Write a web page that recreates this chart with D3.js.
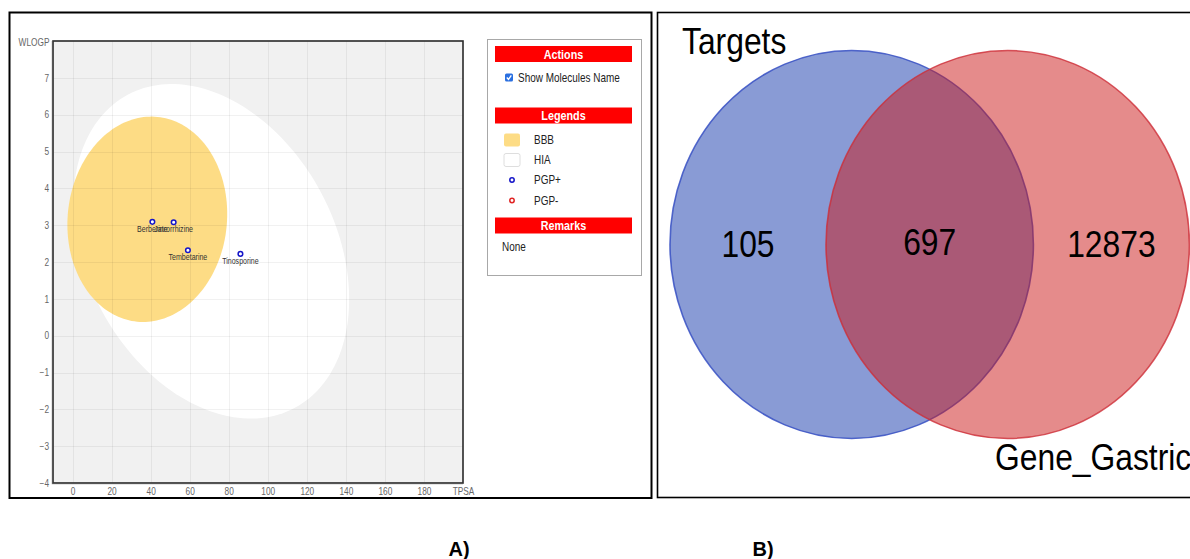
<!DOCTYPE html>
<html>
<head>
<meta charset="utf-8">
<script src="https://cdn.jsdelivr.net/npm/d3@7"></script>
<style>
  html, body { margin: 0; padding: 0; background: #fff; }
  svg { display: block; font-family: "Liberation Sans", Arial, Helvetica, sans-serif; }
</style>
</head>
<body>
<svg id="fig" width="1190" height="559"></svg>
<script>
// ---------- Panel A: BOILED-Egg ----------
const molecules   = ["Berberine", "Jatrorrhizine", "Tembetarine", "Tinosporine"];
const tpsaValues  = [40.9, 51.8, 59.1, 86.0];
const wlogpValues = [3.09, 3.08, 2.32, 2.22];
const pgpClass    = ["PGP+", "PGP+", "PGP+", "PGP+"];

// absorption zones: centre and two conjugate semi-axes, in (TPSA, WLOGP) units
const zoneNames       = ["HIA", "BBB"];
const zoneCenterTPSA  = [71.05, 38.3];
const zoneCenterWLOGP = [2.29, 3.16];
const zoneAxisU       = [[42.8, -4.25], [5.2, 2.78]];
const zoneAxisV       = [[-56.2, -1.6], [40.6, -0.21]];

const xTickValues = [0, 20, 40, 60, 80, 100, 120, 140, 160, 180];
const yTickValues = [-4, -3, -2, -1, 0, 1, 2, 3, 4, 5, 6, 7];
const xDomain = [-10, 200];
const yDomain = [-4, 8];

const legendLabels = ["BBB", "HIA", "PGP+", "PGP-"];
const panelHeaders = ["Actions", "Legends", "Remarks"];

// ---------- Panel B: Venn diagram ----------
const setNames     = ["Targets", "Gene_Gastric"];
const regionCounts = [105, 697, 12873];   // Targets only, both, Gene_Gastric only

const COLORS = {
  plotBg: "#f1f1f1", BBB: "#fddc85", HIA: "#ffffff",
  pgpPlus: "#1414c8", pgpMinus: "#e02424", header: "#ff0000"
};

const svg = d3.select("#fig");

// condensed text: scale horizontally around the anchor point
function squeeze(sel, k) {
  sel.each(function () {
    const t = d3.select(this);
    const x = +t.attr("x") || 0, y = +t.attr("y") || 0;
    t.attr("x", 0).attr("y", 0).attr("transform", `translate(${x},${y}) scale(${k},1)`);
  });
}
const K = 0.83;

// ================= Panel A =================
const A = svg.append("g");
A.append("rect").attr("x", 9.5).attr("y", 12.5).attr("width", 642).attr("height", 485.5)
  .attr("fill", "#fff").attr("stroke", "#000").attr("stroke-width", 2);

const plot = { left: 53, right: 463, top: 41, bottom: 483 };
const x = d3.scaleLinear().domain(xDomain).range([plot.left, plot.right]);
const y = d3.scaleLinear().domain(yDomain).range([plot.bottom, plot.top]);

A.append("rect").attr("x", plot.left).attr("y", plot.top)
  .attr("width", plot.right - plot.left).attr("height", plot.bottom - plot.top)
  .attr("fill", COLORS.plotBg);

// zones
const zoneLine = d3.line().x(d => x(d[0])).y(d => y(d[1])).curve(d3.curveLinearClosed);
zoneNames.forEach((name, i) => {
  const pts = d3.range(0, 2 * Math.PI, Math.PI / 90).map(t => [
    zoneCenterTPSA[i]  + zoneAxisU[i][0] * Math.cos(t) + zoneAxisV[i][0] * Math.sin(t),
    zoneCenterWLOGP[i] + zoneAxisU[i][1] * Math.cos(t) + zoneAxisV[i][1] * Math.sin(t)
  ]);
  A.append("path").attr("d", zoneLine(pts)).attr("fill", COLORS[name]);
});

// grid
const grid = A.append("g").attr("stroke", "rgba(0,0,0,0.055)").attr("stroke-width", 1);
xTickValues.forEach(v => grid.append("line")
  .attr("x1", Math.round(x(v)) + 0.5).attr("x2", Math.round(x(v)) + 0.5)
  .attr("y1", plot.top).attr("y2", plot.bottom));
yTickValues.slice(1).forEach(v => grid.append("line")
  .attr("x1", plot.left).attr("x2", plot.right)
  .attr("y1", Math.round(y(v)) + 0.5).attr("y2", Math.round(y(v)) + 0.5));

// frame
A.append("rect").attr("x", plot.left).attr("y", plot.top)
  .attr("width", plot.right - plot.left).attr("height", plot.bottom - plot.top)
  .attr("fill", "none").attr("stroke", "#2a2a2a").attr("stroke-width", 1.6);
A.append("path")
  .attr("d", `M${plot.left - 0.5},${plot.top} V${plot.bottom + 0.5} H${plot.right}`)
  .attr("fill", "none").attr("stroke", "#555").attr("stroke-width", 1.5).attr("opacity", 0.6);

// axes
const xAxis = A.append("g").attr("transform", `translate(0,${plot.bottom})`)
  .call(d3.axisBottom(x).tickValues(xTickValues).tickSize(0).tickPadding(5));
const yAxis = A.append("g").attr("transform", `translate(${plot.left},0)`)
  .call(d3.axisLeft(y).tickValues(yTickValues).tickSize(0).tickPadding(4));
[xAxis, yAxis].forEach(g => {
  g.select(".domain").remove();
  g.selectAll("text").attr("fill", "#666").attr("font-size", 10).attr("font-family", null);
  squeeze(g.selectAll("text"), K);
});

const axisTitles = A.append("g").attr("fill", "#666").attr("font-size", 10).attr("text-anchor", "middle");
axisTitles.append("text").attr("x", 463.5).attr("y", 494.5).text("TPSA").call(squeeze, K);
axisTitles.append("text").attr("x", 34).attr("y", 45.5).text("WLOGP").call(squeeze, K);

// molecules
const mol = A.append("g").selectAll("g").data(molecules).join("g");
mol.append("circle")
  .attr("cx", (d, i) => x(tpsaValues[i])).attr("cy", (d, i) => y(wlogpValues[i]))
  .attr("r", 2.3).attr("fill", "#fff")
  .attr("stroke", (d, i) => pgpClass[i] === "PGP+" ? COLORS.pgpPlus : COLORS.pgpMinus)
  .attr("stroke-width", 1.5);
mol.append("text")
  .attr("x", (d, i) => x(tpsaValues[i])).attr("y", (d, i) => y(wlogpValues[i]) + 10)
  .attr("text-anchor", "middle").attr("font-size", 8.5).attr("fill", "#333")
  .text(d => d).call(squeeze, K);

// side panel
const P = A.append("g");
P.append("rect").attr("x", 487.5).attr("y", 39.5).attr("width", 154).attr("height", 236)
  .attr("fill", "#fff").attr("stroke", "#a8a8a8");
const headerY = [46, 107.5, 217.5];
panelHeaders.forEach((h, i) => {
  P.append("rect").attr("x", 495).attr("y", headerY[i]).attr("width", 137).attr("height", 16)
    .attr("fill", COLORS.header);
  P.append("text").attr("x", 563.5).attr("y", headerY[i] + 12.5).attr("text-anchor", "middle")
    .attr("font-size", 13).attr("font-weight", "bold").attr("fill", "#fff").text(h).call(squeeze, K);
});
// checkbox
P.append("rect").attr("x", 505).attr("y", 73.5).attr("width", 8).attr("height", 8).attr("rx", 1.5)
  .attr("fill", "#2a6fe0");
P.append("path").attr("d", "M506.8,77.6 L508.5,79.4 L511.3,75.4").attr("fill", "none")
  .attr("stroke", "#fff").attr("stroke-width", 1.4);
P.append("text").attr("x", 518).attr("y", 82.3).attr("font-size", 12).attr("fill", "#222")
  .text("Show Molecules Name").call(squeeze, K);

const legendY = [140, 160, 180, 200.5];
legendLabels.forEach((lab, i) => {
  if (lab === "BBB" || lab === "HIA") {
    P.append("rect").attr("x", 504).attr("y", legendY[i] - 6.5).attr("width", 16).attr("height", 13)
      .attr("rx", 2).attr("fill", COLORS[lab]).attr("stroke", lab === "HIA" ? "#dedede" : "none");
  } else {
    P.append("circle").attr("cx", 512).attr("cy", legendY[i]).attr("r", 2.2).attr("fill", "#fff")
      .attr("stroke", lab === "PGP+" ? COLORS.pgpPlus : COLORS.pgpMinus).attr("stroke-width", 1.5);
  }
  P.append("text").attr("x", 534).attr("y", legendY[i] + 4.3).attr("font-size", 12).attr("fill", "#222")
    .text(lab).call(squeeze, K);
});
P.append("text").attr("x", 502).attr("y", 250.5).attr("font-size", 12).attr("fill", "#222")
  .text("None").call(squeeze, K);

// ================= Panel B =================
const B = svg.append("g");
B.append("rect").attr("x", 657.5).attr("y", 12.5).attr("width", 600).attr("height", 485)
  .attr("fill", "#fff").attr("stroke", "#000").attr("stroke-width", 1.6);

// unit circles; the two sets are drawn with equal radius
const setCentre = [0, 0.8586];
const vx = d3.scaleLinear().domain([0, 1]).range([851.7, 1033.4]);
const vy = d3.scaleLinear().domain([0, 1]).range([244.5, 438.5]);
const setFill   = ["rgba(20,56,172,0.5)", "rgba(204,24,24,0.5)"];
const setStroke = ["rgba(55,80,195,0.85)", "rgba(205,45,55,0.8)"];
setNames.forEach((s, i) => {
  B.append("ellipse")
    .attr("cx", vx(setCentre[i])).attr("cy", vy(0))
    .attr("rx", vx(1) - vx(0)).attr("ry", vy(1) - vy(0))
    .attr("fill", setFill[i]).attr("stroke", setStroke[i]).attr("stroke-width", 1.6);
});

// region label positions: midpoints of each region along the centre line
const leftEdge = [setCentre[0] - 1, setCentre[1] - 1];
const rightEdge = [setCentre[0] + 1, setCentre[1] + 1];
const regionX = [
  (leftEdge[0] + leftEdge[1]) / 2,
  (leftEdge[1] + rightEdge[0]) / 2,
  (rightEdge[0] + rightEdge[1]) / 2
];
const VK = 0.86;
regionCounts.forEach((c, i) => {
  B.append("text").attr("x", vx(regionX[i])).attr("y", vy(0) + 12 - (i === 1 ? 2 : 0))
    .attr("text-anchor", "middle").attr("font-size", 37).attr("fill", "#000")
    .text(c).call(squeeze, VK);
});
B.append("text").attr("x", 682).attr("y", 53.5).attr("font-size", 37).attr("fill", "#000")
  .text(setNames[0]).call(squeeze, VK);
B.append("text").attr("x", 995).attr("y", 469.5).attr("font-size", 37).attr("fill", "#000")
  .text(setNames[1]).call(squeeze, VK);

// panel tags
svg.append("text").attr("x", 459).attr("y", 556).attr("text-anchor", "middle")
  .attr("font-size", 20).attr("font-weight", "bold").text("A)");
svg.append("text").attr("x", 763).attr("y", 556).attr("text-anchor", "middle")
  .attr("font-size", 20).attr("font-weight", "bold").text("B)");
</script>
</body>
</html>
